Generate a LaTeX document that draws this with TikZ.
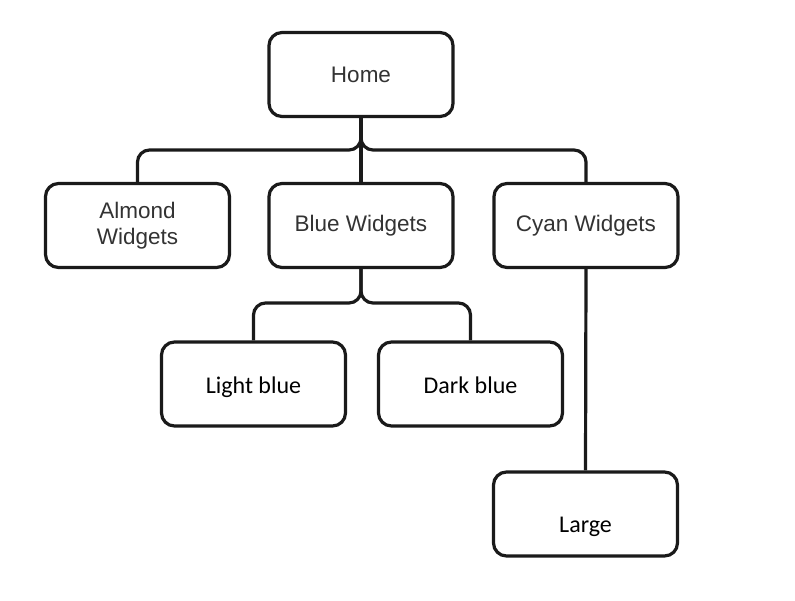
\documentclass[tikz,border=0pt]{standalone}
\usepackage{fontspec}
\setmainfont{Liberation Sans}
\newfontfamily\calib{Carlito}
\definecolor{textgray}{HTML}{333333}
\definecolor{linecol}{HTML}{1A1A1A}
\begin{document}
\begin{tikzpicture}[x=1pt,y=-1pt,
  box/.style={draw=linecol, line width=3.2pt, rounded corners=13pt, minimum width=184pt, minimum height=84pt, fill=white, inner sep=0pt, align=center, text=textgray, font=\fontsize{22.5}{26}\selectfont},
  lowbox/.style={box, text=black, font=\calib\fontsize{24}{28}\selectfont, text height=20pt, text depth=2pt},
  link/.style={draw=linecol, line width=3.2pt, rounded corners=12pt},
  straight/.style={draw=linecol, line width=3.2pt}]
\useasboundingbox (0,0) rectangle (795,600);
\node[box] (home) at (361,74.5) {Home};
\node[box] (almond) at (137.5,225.5) {Almond\\Widgets};
\node[box] (blue) at (361,225.5) {Blue Widgets};
\node[box] (cyan) at (586,225.5) {Cyan Widgets};
\node[lowbox] (light) at (253.5,384) {Light blue};
\node[lowbox] (dark) at (470.5,384) {Dark blue};
\node[lowbox] (large) at (585.5,514) {\raisebox{-9pt}[\height][\depth]{Large}};
\coordinate (j1) at (361,150);
\coordinate (j2) at (361,303);
\draw[link] (home.south) -- (j1) -| (almond.north);
\draw[link] (home.south) -- (j1) -| (cyan.north);
\draw[straight] (home.south) -- (blue.north);
\draw[link] (blue.south) -- (j2) -| (light.north);
\draw[link] (blue.south) -- (j2) -| (dark.north);
\draw[straight] (cyan.south) -- (large.north);
\end{tikzpicture}
\end{document}
